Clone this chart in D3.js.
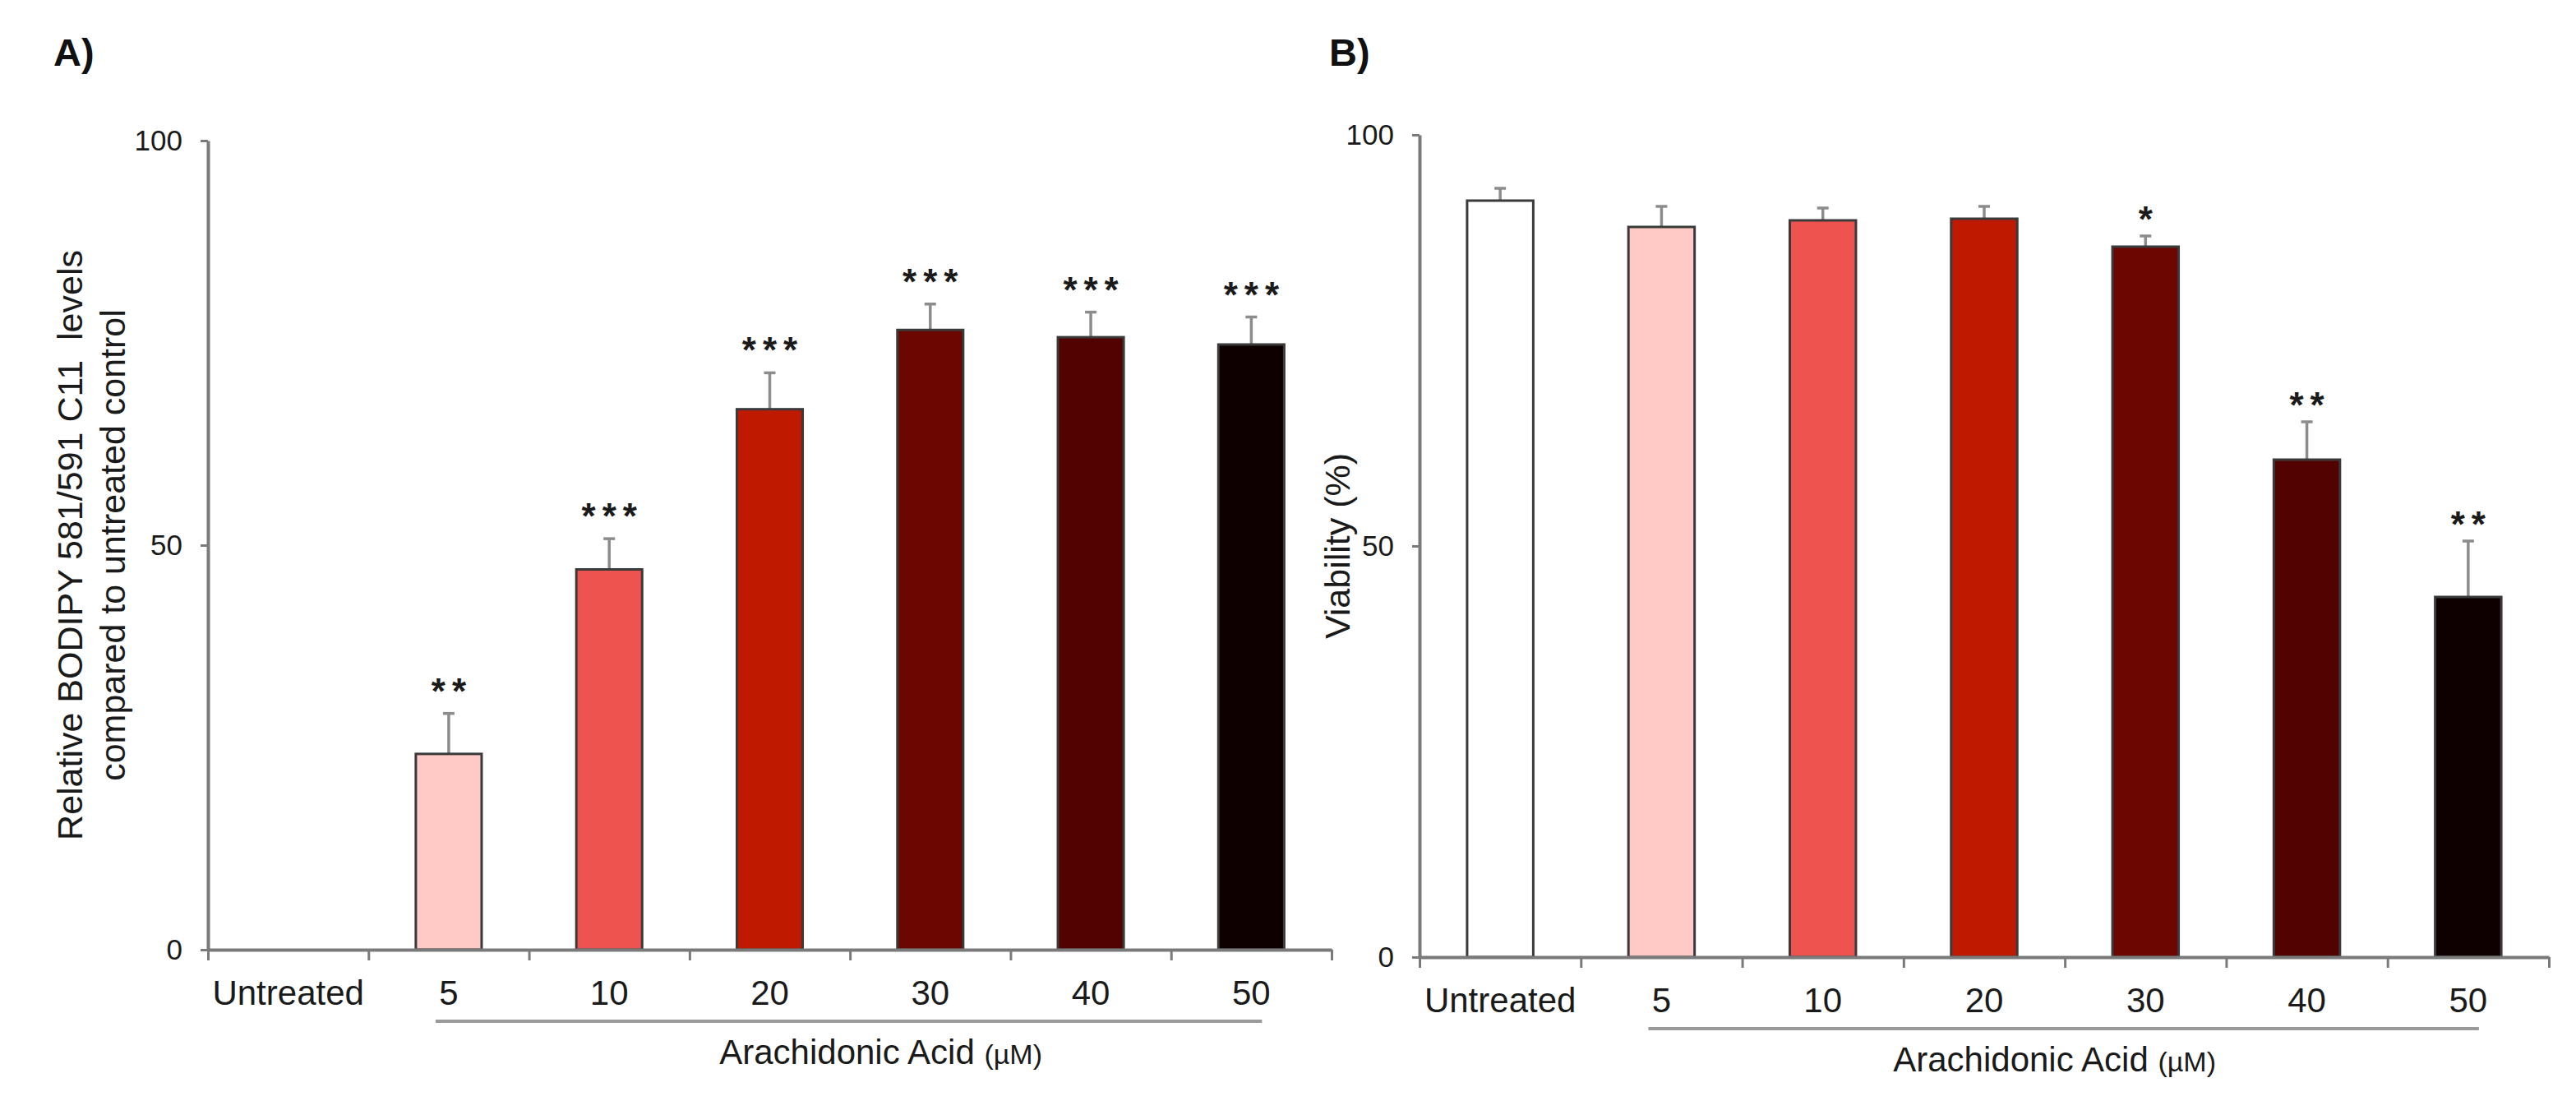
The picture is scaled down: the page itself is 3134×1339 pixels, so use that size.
<!DOCTYPE html>
<html>
<head>
<meta charset="utf-8">
<title>BODIPY and viability</title>
<script src="https://cdn.jsdelivr.net/npm/d3@7"></script>
<style>
  html, body { margin: 0; padding: 0; background: #fff; }
  svg { display: block; font-family: "Liberation Sans", Arial, sans-serif; }
</style>
</head>
<body>
<div id="chart"></div>
<script>
// data
var categories = ["Untreated", "5", "10", "20", "30", "40", "50"];
var barColors = ["#ffffff", "#ffcac5", "#ef5350", "#bf1a00", "#6b0700", "#520200", "#0e0000"];

var bodipyMean = [0, 24.2, 47.0, 66.8, 76.6, 75.7, 74.8];
var bodipyErr = [0, 5.0, 3.8, 4.5, 3.2, 3.1, 3.4];
var bodipyStars = ["", "**", "***", "***", "***", "***", "***"];

var viabilityMean = [92.0, 88.8, 89.6, 89.8, 86.4, 60.5, 43.8];
var viabilityErr = [1.5, 2.5, 1.5, 1.5, 1.3, 4.6, 6.8];
var viabilityStars = ["", "", "", "", "*", "**", "**"];

var yTicks = [0, 50, 100];

var W = 3134, H = 1339;

var svg = d3.select("#chart").append("svg")
  .attr("width", W)
  .attr("height", H);

svg.append("rect").attr("width", W).attr("height", H).attr("fill", "#fff");

drawPanel({
  tag: "A)", tagX: 65, tagY: 80,
  left: 253, right: 1620, top: 171, bottom: 1155,
  means: bodipyMean, errs: bodipyErr, stars: bodipyStars,
  yTitle: ["Relative BODIPY 581/591 C11  levels", "compared to untreated control"],
  yTitleX: [100, 152],
  starGap: 36,
  titleEnd: 1268
});

drawPanel({
  tag: "B)", tagX: 1617, tagY: 80,
  left: 1727, right: 3101, top: 164, bottom: 1164,
  means: viabilityMean, errs: viabilityErr, stars: viabilityStars,
  yTitle: ["Viability (%)"],
  yTitleX: [1642],
  starGap: 29,
  titleEnd: 2696
});

function drawPanel(p) {
  var g = svg.append("g");

  var x = d3.scaleBand()
    .domain(categories)
    .range([p.left, p.right])
    .paddingInner(0.59)
    .paddingOuter(0.295);

  var y = d3.scaleLinear()
    .domain([0, 100])
    .range([p.bottom, p.top]);

  var rows = categories.map(function(c, i) {
    return { cat: c, mean: p.means[i], err: p.errs[i], stars: p.stars[i], color: barColors[i] };
  });

  // panel letter
  g.append("text")
    .attr("x", p.tagX).attr("y", p.tagY)
    .attr("font-size", 47).attr("font-weight", "bold")
    .attr("fill", "#111")
    .text(p.tag);

  // error bars go behind the bars
  var eb = g.append("g").attr("stroke", "#8c8c8c").attr("stroke-width", 3.5);
  rows.filter(function(d) { return d.mean > 0; }).forEach(function(d) {
    var cx = x(d.cat) + x.bandwidth() / 2;
    eb.append("line")
      .attr("x1", cx).attr("x2", cx)
      .attr("y1", y(d.mean)).attr("y2", y(d.mean + d.err));
    eb.append("line")
      .attr("x1", cx - 7).attr("x2", cx + 7)
      .attr("y1", y(d.mean + d.err)).attr("y2", y(d.mean + d.err));
  });

  g.append("g").selectAll("rect")
    .data(rows.filter(function(d) { return d.mean > 0; }))
    .join("rect")
      .attr("x", function(d) { return x(d.cat); })
      .attr("y", function(d) { return y(d.mean); })
      .attr("width", x.bandwidth())
      .attr("height", function(d) { return y(0) - y(d.mean); })
      .attr("fill", function(d) { return d.color; })
      .attr("stroke", "#3a3a3a")
      .attr("stroke-width", 3);

  // significance stars
  g.append("g").selectAll("text")
    .data(rows.filter(function(d) { return d.stars; }))
    .join("text")
      .attr("x", function(d) { return x(d.cat) + x.bandwidth() / 2 + 4; })
      .attr("y", function(d) { return y(d.mean + d.err) - p.starGap + 24; })
      .attr("text-anchor", "middle")
      .attr("font-size", 44)
      .attr("font-weight", "bold")
      .attr("letter-spacing", 8)
      .attr("fill", "#1a1a1a")
      .text(function(d) { return d.stars; });

  // y axis
  var yAxis = g.append("g")
    .attr("transform", "translate(" + p.left + ",0)")
    .call(d3.axisLeft(y).tickValues(yTicks).tickSize(9).tickSizeOuter(0).tickPadding(22));
  yAxis.select(".domain").attr("stroke", "#7a7a7a").attr("stroke-width", 4);
  yAxis.selectAll(".tick line").attr("stroke", "#7a7a7a").attr("stroke-width", 3);
  yAxis.selectAll(".tick text")
    .attr("font-size", 35).attr("fill", "#1a1a1a")
    .attr("font-family", "Liberation Sans, Arial, sans-serif");

  // boundary ticks between categories
  var bounds = d3.scaleLinear().domain([0, categories.length]).range([p.left, p.right]);
  var bAxis = g.append("g")
    .attr("transform", "translate(0," + p.bottom + ")")
    .call(d3.axisBottom(bounds).ticks(categories.length).tickSize(13).tickFormat(""));
  bAxis.select(".domain").remove();
  bAxis.selectAll(".tick line").attr("stroke", "#7a7a7a").attr("stroke-width", 3);

  // x axis with category labels
  var xAxis = g.append("g")
    .attr("transform", "translate(0," + p.bottom + ")")
    .call(d3.axisBottom(x).tickSize(0).tickSizeOuter(0).tickPadding(37));
  xAxis.select(".domain").attr("stroke", "#7a7a7a").attr("stroke-width", 4);
  xAxis.selectAll(".tick text")
    .attr("font-size", 42).attr("fill", "#1a1a1a")
    .attr("font-family", "Liberation Sans, Arial, sans-serif");

  // bracket line under the doses
  var x5 = x("5") + x.bandwidth() / 2, x50 = x("50") + x.bandwidth() / 2;
  g.append("line")
    .attr("x1", x5 - 16).attr("x2", x50 + 13)
    .attr("y1", p.bottom + 87).attr("y2", p.bottom + 87)
    .attr("stroke", "#9a9a9a").attr("stroke-width", 4);

  var t = g.append("text")
    .attr("x", p.titleEnd).attr("y", p.bottom + 139)
    .attr("text-anchor", "end")
    .attr("fill", "#1a1a1a")
    .attr("font-size", 42);
  t.append("tspan").text("Arachidonic Acid ");
  t.append("tspan").attr("font-size", 34).text("(\u00b5M)");

  // y title
  var ty = (p.top + p.bottom) / 2;
  p.yTitle.forEach(function(line, i) {
    g.append("text")
      .attr("transform", "translate(" + p.yTitleX[i] + "," + ty + ") rotate(-90)")
      .attr("text-anchor", "middle")
      .attr("font-size", 43)
      .attr("fill", "#1a1a1a")
      .style("white-space", "pre")
      .text(line);
  });
}
</script>
</body>
</html>
